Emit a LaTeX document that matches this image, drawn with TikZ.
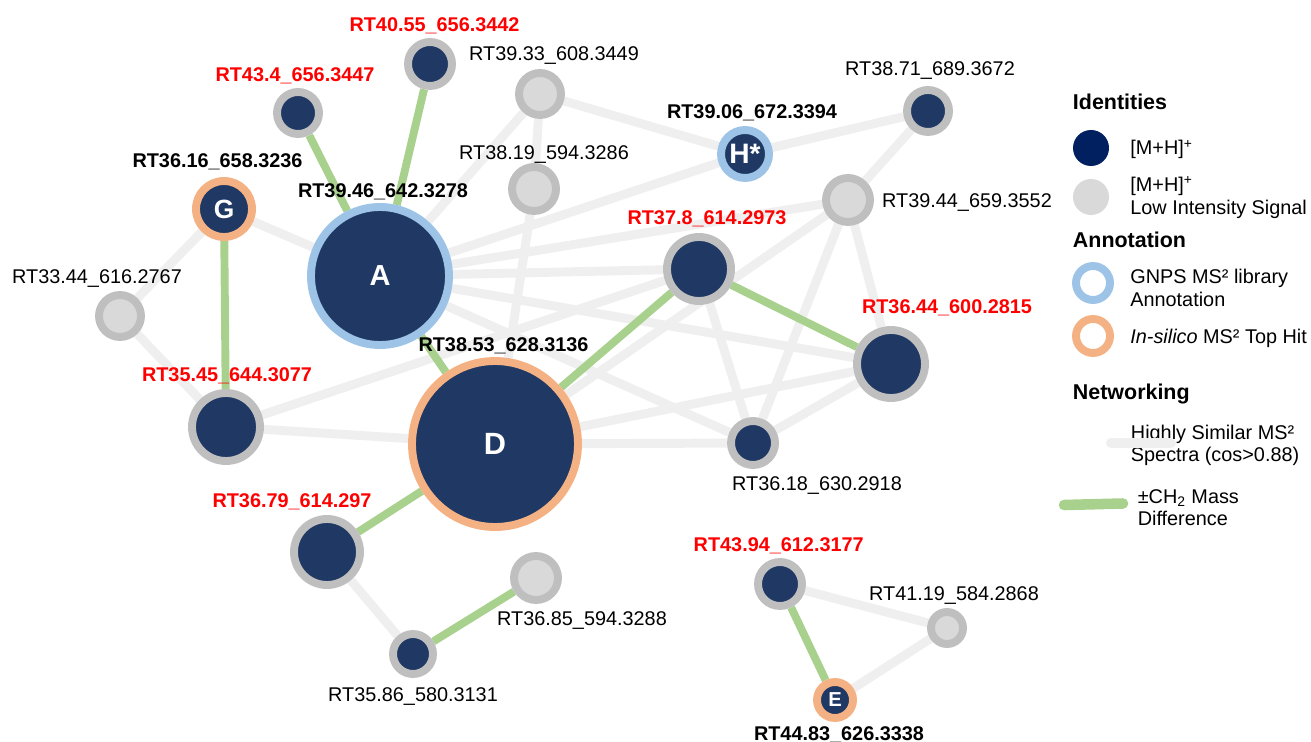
\documentclass[tikz,border=0pt]{standalone}
\usepackage{fontspec}
\setmainfont{Liberation Sans}
\usepackage{xcolor}
\usetikzlibrary{positioning,backgrounds}

\definecolor{navy}{HTML}{203864}
\definecolor{legnavy}{HTML}{002060}
\definecolor{ringgrey}{HTML}{BFBFBF}
\definecolor{lowfill}{HTML}{D9D9D9}
\definecolor{gnpsblue}{HTML}{9DC3E6}
\definecolor{silicoorange}{HTML}{F4B183}
\definecolor{simgrey}{HTML}{EFEFEF}
\definecolor{chgreen}{HTML}{A9D18E}
\definecolor{hitred}{HTML}{FF0000}

\newcommand{\lblfont}{\fontsize{11.3}{13}\selectfont}
\newcommand{\hdrfont}{\fontsize{12.2}{14}\selectfont\bfseries}
\newcommand{\letterfont}[1]{\fontsize{#1}{#1}\selectfont\bfseries}

\begin{document}
\begin{tikzpicture}[x=0.02cm,y=-0.02cm,
  feat/.style={circle,draw=ringgrey,line width=4.5pt,fill=navy,inner sep=0pt,minimum size=#1*0.02cm},
  lowint/.style={feat=#1,fill=lowfill},
  gnps/.style={feat=#1,draw=gnpsblue,text=white},
  silico/.style={feat=#1,draw=silicoorange,text=white},
  lbl/.style={anchor=base,inner sep=0pt,font=\lblfont},
  hitlbl/.style={lbl,text=hitred,font=\lblfont\bfseries},
  annot/.style={lbl,font=\lblfont\bfseries},
  legtext/.style={lbl,anchor=base west,align=left},
  leghead/.style={anchor=base west,inner sep=0pt,font=\hdrfont},
  sim/.style={draw=simgrey,line width=5.1pt},
  chtwo/.style={draw=chgreen,line width=4.5pt}]
    \useasboundingbox (0,0) rectangle (1311,742);

    \node [gnps=138, font=\letterfont{16.5}] (A) at (380,276) {A};
    \node [silico=166, font=\letterfont{17.5}] (D) at (495,444) {D};
    \node [silico=56, font=\letterfont{15}] (G) at (224,209) {G};
    \node [gnps=48, font=\letterfont{16}] (H) at (745,154) {H*};
    \node [silico=36, font=\letterfont{11.5}] (E) at (835,700) {E};
    \node [feat=42] (rt434) at (298,113) {};
    \node [feat=44] (rt4055) at (430,64) {};
    \node [lowint=42] (rt3933) at (540,94) {};
    \node [lowint=44] (rt3819) at (534,189) {};
    \node [lowint=42] (rt3344) at (120,316) {};
    \node [feat=42] (rt3871) at (928,111) {};
    \node [lowint=44] (rt3944) at (848,200) {};
    \node [feat=64] (rt378) at (699,269) {};
    \node [feat=68] (rt3644) at (891,364) {};
    \node [feat=68] (rt3545) at (226,427) {};
    \node [feat=66] (rt3679) at (327,552) {};
    \node [lowint=44] (rt3685) at (536,578) {};
    \node [feat=40] (rt3586) at (413,654) {};
    \node [feat=44] (rt3618) at (753,443) {};
    \node [feat=44] (rt4394) at (780,584) {};
    \node [lowint=32] (rt4119) at (947,628) {};

    \node [hitlbl] (t4055) at (434.5,31.5) {RT40.55\_656.3442};
    \node [lbl] (t3933) at (554,61) {RT39.33\_608.3449};
    \node [hitlbl] (t434) at (295,81.5) {RT43.4\_656.3447};
    \node [annot] (tG) at (217.5,167.5) {RT36.16\_658.3236};
    \node [lbl] (t3819) at (544,160) {RT38.19\_594.3286};
    \node [annot] (tA) at (383,197.5) {RT39.46\_642.3278};
    \node [lbl] (t3344) at (97,284) {RT33.44\_616.2767};
    \node [annot] (tD) at (503.5,351.5) {RT38.53\_628.3136};
    \node [lbl] (t3871) at (930,76) {RT38.71\_689.3672};
    \node [annot] (tH) at (752,119) {RT39.06\_672.3394};
    \node [lbl] (t3944) at (967,207.5) {RT39.44\_659.3552};
    \node [hitlbl] (t378) at (707,225) {RT37.8\_614.2973};
    \node [hitlbl] (t3644) at (947,313.5) {RT36.44\_600.2815};
    \node [hitlbl] (t3545) at (227,381.7) {RT35.45\_644.3077};
    \node [lbl] (t3618) at (817,490.6) {RT36.18\_630.2918};
    \node [hitlbl] (t3679) at (292,508) {RT36.79\_614.297};
    \node [hitlbl] (t4394) at (778.7,552) {RT43.94\_612.3177};
    \node [lbl] (t4119) at (954,601) {RT41.19\_584.2868};
    \node [lbl] (t3685) at (582,625) {RT36.85\_594.3288};
    \node [lbl] (t3586) at (413,701) {RT35.86\_580.3131};
    \node [annot] (tE) at (839,740) {RT44.83\_626.3338};

    \begin{pgfonlayer}{background}
    \path[sim] (G) edge (A);
    \path[sim] (G) edge (rt3344);
    \path[sim] (rt3344) edge (rt3545);
    \path[sim] (rt3545) edge (D);
    \path[sim] (rt3545) edge (rt378);
    \path[sim] (A) edge (rt3933);
    \path[sim] (A) edge (H);
    \path[sim] (A) edge (rt3944);
    \path[sim] (A) edge (rt378);
    \path[sim] (A) edge (rt3644);
    \path[sim] (A) edge (rt3618);
    \path[sim] (rt3933) edge (rt3819);
    \path[sim] (rt3933) edge (H);
    \path[sim] (rt3819) edge (D);
    \path[sim] (H) edge (rt3871);
    \path[sim] (rt3871) edge (rt3944);
    \path[sim] (rt3944) edge (D);
    \path[sim] (rt3944) edge (rt3618);
    \path[sim] (rt3944) edge (rt3644);
    \path[sim] (rt378) edge (rt3618);
    \path[sim] (D) edge (rt3644);
    \path[sim] (D) edge (rt3618);
    \path[sim] (rt3618) edge (rt3644);
    \path[sim] (rt3679) edge (rt3586);
    \path[sim] (rt4394) edge (rt4119);
    \path[sim] (rt4119) edge (E);
    \path[chtwo] (A) edge (rt434);
    \path[chtwo] (A) edge (rt4055);
    \path[chtwo] (G) edge (rt3545);
    \path[chtwo] (A) edge (D);
    \path[chtwo] (D) edge (rt378);
    \path[chtwo] (D) edge (rt3679);
    \path[chtwo] (rt378) edge (rt3644);
    \path[chtwo] (rt3586) edge (rt3685);
    \path[chtwo] (rt4394) edge (E);
    \end{pgfonlayer}

    % legend (multi-line texts sit on the baseline of their last line)
    \node [leghead] (hIdent) at (1072.6,110) {Identities};
    \node [circle, fill=legnavy, inner sep=0pt, minimum size=0.72cm] (kMH) at (1091,148) {};
    \node [legtext] (tMH) at (1130,155) {[M+H]\textsuperscript{+}};
    \node [circle, fill=lowfill, inner sep=0pt, minimum size=0.72cm] (kLow) at (1091,197) {};
    \node [legtext] (tLow) at (1130,214.5) {[M+H]\textsuperscript{+}\\Low Intensity Signal};
    \node [leghead] (hAnnot) at (1072.6,248) {Annotation};
    \node [circle, draw=gnpsblue, line width=4.5pt, inner sep=0pt, minimum size=0.68cm] (kGnps) at (1093,283) {};
    \node [legtext] (tGnps) at (1130,306.7) {GNPS MS² library\\Annotation};
    \node [circle, draw=silicoorange, line width=4.5pt, inner sep=0pt, minimum size=0.68cm] (kSilico) at (1093,336) {};
    \node [legtext] (tSilico) at (1130,344) {\textit{In-silico} MS² Top Hit};
    \node [leghead] (hNet) at (1072.6,399.5) {Networking};
    \node [legtext] (tSim) at (1130.6,462) {Highly Similar MS²\\Spectra (cos>0.88)};
    \node [legtext] (tCh) at (1137.4,526) {±CH\textsubscript{2} Mass\\Difference};
    \coordinate (simA) at (1111,443);
    \coordinate (simB) at (1171,443);
    \coordinate (chA) at (1064,505);
    \coordinate (chB) at (1123,503.5);
    \draw[sim, line width=5.7pt, line cap=round] (simA) -- (simB);
    \draw[chtwo, line width=6pt, line cap=round] (chA) -- (chB);
\end{tikzpicture}
\end{document}
